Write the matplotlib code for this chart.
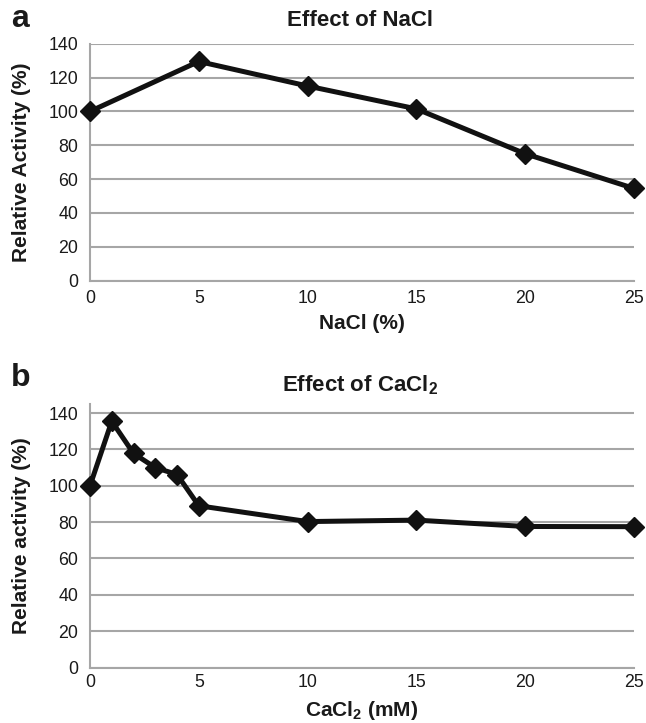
import matplotlib
matplotlib.use("Agg")
import matplotlib.pyplot as plt

# Data
nacl_x = [0, 5, 10, 15, 20, 25]
nacl_y = [100, 129.5, 115, 101.5, 75, 54.5]
cacl_x = [0, 1, 2, 3, 4, 5, 10, 15, 20, 25]
cacl_y = [100, 135.5, 117.8, 110, 106.2, 89, 80.3, 81.1, 77.6, 77.5]
xticks = [0, 5, 10, 15, 20, 25]
yticks = [0, 20, 40, 60, 80, 100, 120, 140]

plt.rcParams['font.family'] = ['Liberation Sans', 'DejaVu Sans']
plt.rcParams['mathtext.fontset'] = 'custom'
plt.rcParams['mathtext.rm'] = 'Liberation Sans'
plt.rcParams['mathtext.bf'] = 'Liberation Sans:bold'

W, H = 646, 723
fig = plt.figure(figsize=(W/100, H/100), dpi=100)

grid_c = '#a6a6a6'
txt_c = '#1a1a1a'

def style(ax, ymax, xpad):
    ax.set_xlim(0, 25)
    ax.set_ylim(0, ymax)
    ax.set_xticks(xticks)
    ax.set_yticks(yticks)
    for s in ['top', 'right']:
        ax.spines[s].set_visible(False)
    for s in ['left', 'bottom']:
        ax.spines[s].set_color(grid_c)
        ax.spines[s].set_linewidth(1.5)
    ax.yaxis.grid(True, color=grid_c, linewidth=1.5)
    ax.set_axisbelow(True)
    ax.tick_params(length=0, labelsize=12.8, labelcolor=txt_c)
    ax.tick_params(axis='y', pad=8.5)
    ax.tick_params(axis='x', pad=xpad)

# Top panel
ax1 = fig.add_axes([90/W, 1-280.7/H, 544/W, (280.7-43.7)/H])
style(ax1, 140, 7)
ax1.plot(nacl_x, nacl_y, color='#111111', lw=3.6, marker='D', ms=10.5, clip_on=False, zorder=5)
ax1.set_ylabel('Relative Activity (%)', fontsize=15, fontweight='bold', color=txt_c)
ax1.yaxis.set_label_coords(-(90-31)/544, 0.5)
ax1.set_xlabel('NaCl (%)', fontsize=15, fontweight='bold', color=txt_c)
ax1.xaxis.set_label_coords(0.5, -(314-280.7)/237)
fig.text(360/W, 1-21/H, 'Effect of NaCl', fontsize=16, fontweight='bold', ha='center', va='center', color=txt_c)
fig.text(11/W, 1-19/H, 'a', fontsize=23, fontweight='bold', ha='left', va='center', color=txt_c)

# Bottom panel
ax2 = fig.add_axes([90/W, 1-667.5/H, 544/W, (667.5-404)/H])
style(ax2, 145, 4.5)
ax2.plot(cacl_x, cacl_y, color='#111111', lw=3.6, marker='D', ms=10.5, clip_on=False, zorder=5)
ax2.set_ylabel('Relative activity (%)', fontsize=15, fontweight='bold', color=txt_c)
ax2.yaxis.set_label_coords(-(90-31)/544, 0.5)
ax2.set_xlabel(r'$\mathbf{CaCl_2}$ (mM)', fontsize=15, fontweight='bold', color=txt_c)
ax2.xaxis.set_label_coords(0.5, -(699-667.5)/263.5)
fig.text(360/W, 1-385/H, r'Effect of $\mathbf{CaCl_2}$', fontsize=16, fontweight='bold', ha='center', va='center', color=txt_c)
fig.text(11/W, 1-378/H, 'b', fontsize=23, fontweight='bold', ha='left', va='center', color=txt_c)

fig.savefig('out.png', dpi=100)
